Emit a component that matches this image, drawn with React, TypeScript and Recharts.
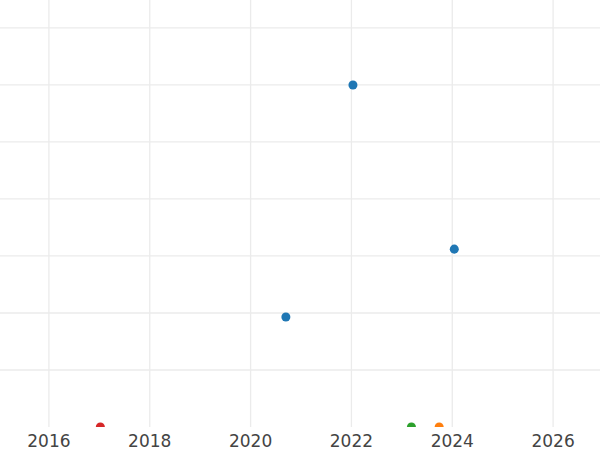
import React from 'react';
import { ScatterChart, Scatter, XAxis, YAxis, ZAxis, CartesianGrid } from 'recharts';

// one series per colour, x = year, y = value
const blueYears = [2020.7, 2022.03, 2024.04];
const blueValues = [1.93, 6.0, 3.12];
const redYears = [2017.02];
const redValues = [0];
const greenYears = [2023.19];
const greenValues = [0];
const orangeYears = [2023.74];
const orangeValues = [0];

const xTicks = [2016, 2018, 2020, 2022, 2024, 2026];
const yTicks = [1, 2, 3, 4, 5, 6, 7];

const toPoints = (xs: number[], ys: number[]) => xs.map((x, i) => ({ x, y: ys[i] }));

const series = [
    { name: 'blue', color: '#1f77b4', data: toPoints(blueYears, blueValues) },
    { name: 'red', color: '#d62728', data: toPoints(redYears, redValues) },
    { name: 'green', color: '#2ca02c', data: toPoints(greenYears, greenValues) },
    { name: 'orange', color: '#ff7f0e', data: toPoints(orangeYears, orangeValues) },
];

const App: React.FC = () => {
    return (
        <div style={{ position: 'absolute', left: 0, top: 0, background: '#fff' }}>
            <ScatterChart width={600} height={450} margin={{ top: 0, right: 0, bottom: 0, left: 0 }}>
                <CartesianGrid
                    stroke="#ebebeb"
                    strokeWidth={1.3}
                    horizontalValues={yTicks}
                    verticalValues={xTicks}
                />
                <XAxis
                    type="number"
                    dataKey="x"
                    domain={[2015.03, 2026.93]}
                    ticks={xTicks}
                    allowDataOverflow
                    axisLine={false}
                    tickLine={false}
                    height={23}
                    tick={{ fill: '#444', fontSize: 17, fontFamily: 'DejaVu Sans' }}
                    tickMargin={2}
                />
                <YAxis
                    type="number"
                    dataKey="y"
                    domain={[0, 7.49]}
                    ticks={yTicks}
                    allowDataOverflow
                    hide
                />
                <ZAxis range={[64, 64]} />
                {series.map(s => (
                    <Scatter
                        key={s.name}
                        name={s.name}
                        data={s.data}
                        fill={s.color}
                        isAnimationActive={false}
                    />
                ))}
            </ScatterChart>
        </div>
    );
};

export default App;
